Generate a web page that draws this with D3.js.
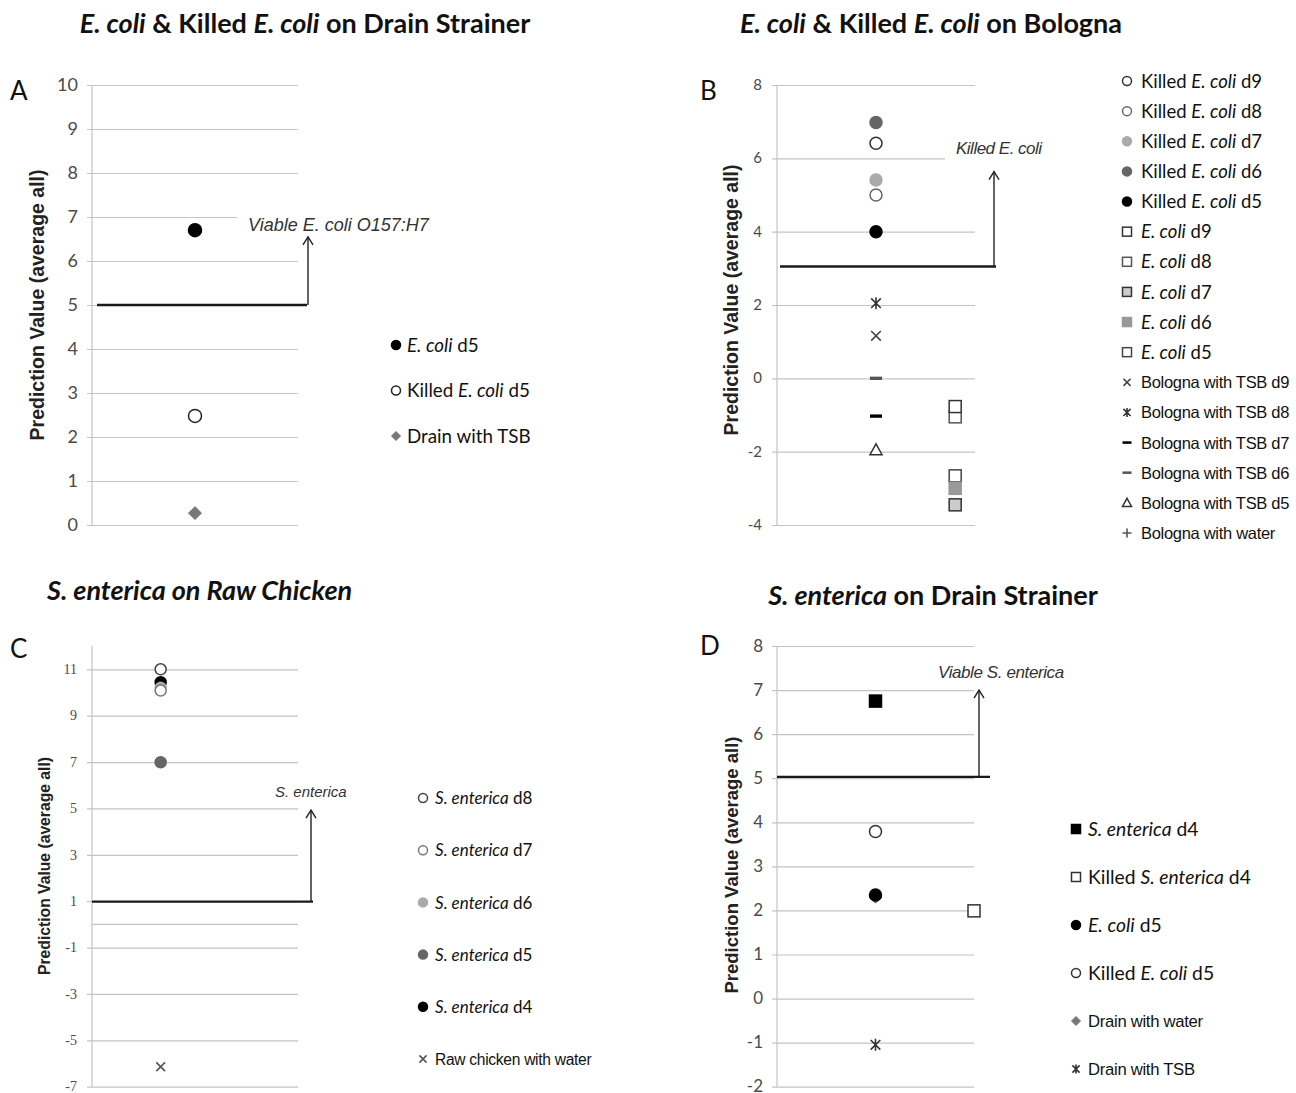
<!DOCTYPE html>
<html>
<head>
<meta charset="utf-8">
<script src="https://cdn.jsdelivr.net/npm/d3@7"></script>
<style>
  body { margin: 0; background: #fff; }
  svg { display: block; }
</style>
</head>
<body>
<svg id="chart" width="1296" height="1093"></svg>
<script>
// ---- data ----
// labels use *...* for italic parts

// A: E. coli & Killed E. coli on Drain Strainer
const aSeries = ['*E. coli* d5', 'Killed *E. coli* d5', 'Drain with TSB'];
const aValues = [6.7, 2.48, 0.27];
const aColumn = [1, 1, 1];
const aTicks = d3.range(0, 11, 1);

// B: E. coli & Killed E. coli on Bologna
const bSeries = [
  'Killed *E. coli* d9', 'Killed *E. coli* d8', 'Killed *E. coli* d7', 'Killed *E. coli* d6', 'Killed *E. coli* d5',
  '*E. coli* d9', '*E. coli* d8', '*E. coli* d7', '*E. coli* d6', '*E. coli* d5',
  'Bologna with TSB d9', 'Bologna with TSB d8', 'Bologna with TSB d7', 'Bologna with TSB d6', 'Bologna with TSB d5',
  'Bologna with water'
];
const bValues = [6.41, 5.0, 5.41, 6.98, 4.0, -0.77, -1.05, -3.45, -3.0, -2.66, 1.16, 2.05, -1.03, 0.0, -1.95, null];
const bColumn = [1, 1, 1, 1, 1, 1.8, 1.8, 1.8, 1.8, 1.8, 1, 1, 1, 1, 1, 1];
const bTicks = d3.range(-4, 9, 2);

// C: S. enterica on Raw Chicken
const cSeries = ['*S. enterica* d8', '*S. enterica* d7', '*S. enterica* d6', '*S. enterica* d5', '*S. enterica* d4', 'Raw chicken with water'];
const cValues = [11.0, 10.08, 10.2, 6.99, 10.44, -6.14];
const cColumn = [1, 1, 1, 1, 1, 1];
const cTicks = d3.range(-7, 12, 2);

// D: S. enterica on Drain Strainer
const dSeries = ['*S. enterica* d4', 'Killed *S. enterica* d4', '*E. coli* d5', 'Killed *E. coli* d5', 'Drain with water', 'Drain with TSB'];
const dValues = [6.75, 1.99, 2.35, 3.79, 2.3, -1.05];
const dColumn = [1, 2, 1, 1, 1, 1];
const dTicks = d3.range(-2, 9, 1);

// thresholds and arrow tips
const thresholds = [5, 3.05, 0.98, 5.03];
const arrowTops = [6.55, 5.64, 4.93, 7.0];

// ---- marker styles ----
const open = (s) => ({ t: 'circle', f: '#fff', s });
const dot = (f) => ({ t: 'circle', f, s: f });
const aMarks = [dot('#000'), open('#222'), { t: 'diamond', f: '#777', s: '#777' }];
const bMarks = [
  open('#333'), open('#666'), dot('#aaa'), dot('#666'), dot('#000'),
  { t: 'square', f: '#fff', s: '#333' }, { t: 'square', f: '#fff', s: '#555' },
  { t: 'square', f: '#ccc', s: '#333' }, { t: 'square', f: '#999', s: '#999' },
  { t: 'square', f: '#fff', s: '#444' },
  { t: 'x', s: '#444' }, { t: 'star', s: '#333' }, { t: 'dash', s: '#000' }, { t: 'dash', s: '#555' },
  { t: 'triangle', f: '#fff', s: '#333' }, { t: 'plus', s: '#555' }
];
const cMarks = [open('#444'), open('#777'), dot('#aaa'), dot('#666'), dot('#000'), { t: 'x', s: '#555' }];
const dMarks = [
  { t: 'square', f: '#000', s: '#000' }, { t: 'square', f: '#fff', s: '#333' },
  dot('#000'), open('#333'), { t: 'diamond', f: '#777', s: '#777' }, { t: 'star', s: '#333' }
];

const svg = d3.select('#chart');
const CAL = 'Lato, "Open Sans", sans-serif';
const ARIAL = '"Liberation Sans", Arial, sans-serif';

function richText(sel, label) {
  label.split('*').forEach((part, i) => {
    if (!part) return;
    sel.append('tspan').text(part).attr('font-style', i % 2 ? 'italic' : 'normal');
  });
}

function marker(g, m, cx, cy, r) {
  const mg = g.append('g').attr('transform', `translate(${cx},${cy})`);
  const sw = 1.5;
  if (m.t === 'circle') {
    mg.append('circle').attr('r', r).attr('fill', m.f).attr('stroke', m.s).attr('stroke-width', sw);
  } else if (m.t === 'square') {
    mg.append('rect').attr('x', -r).attr('y', -r).attr('width', 2 * r).attr('height', 2 * r)
      .attr('fill', m.f).attr('stroke', m.s).attr('stroke-width', sw);
  } else if (m.t === 'diamond') {
    mg.append('path').attr('d', `M0,${-r}L${r},0L0,${r}L${-r},0Z`).attr('fill', m.f).attr('stroke', m.s);
  } else if (m.t === 'triangle') {
    mg.append('path').attr('d', `M0,${-r}L${r},${r * 0.8}L${-r},${r * 0.8}Z`)
      .attr('fill', m.f).attr('stroke', m.s).attr('stroke-width', sw);
  } else if (m.t === 'dash') {
    mg.append('rect').attr('x', -r).attr('y', -r * 0.28).attr('width', 2 * r).attr('height', r * 0.56).attr('fill', m.s);
  } else {
    const k = r * 0.8;
    let d = '';
    if (m.t === 'x' || m.t === 'star') d += `M${-k},${-k}L${k},${k}M${-k},${k}L${k},${-k}`;
    if (m.t === 'star') d += `M0,${-r}L0,${r}`;
    if (m.t === 'plus') d += `M${-r},0L${r},0M0,${-r}L0,${r}`;
    mg.append('path').attr('d', d).attr('fill', 'none').attr('stroke', m.s).attr('stroke-width', 1.6);
  }
}

function drawPanel(p) {
  const g = svg.append('g');
  const y = d3.scaleLinear().domain(p.yDomain).range(p.yRange);
  const x = d3.scaleLinear().domain(p.xDomain).range([p.axisX, p.gridRight]);

  // grid + tick labels (plain hyphen minus, as in the figure)
  const axis = d3.axisLeft(y).tickValues(p.ticks)
    .tickSizeInner(-(p.gridRight - p.axisX)).tickSizeOuter(0).tickPadding(p.tickPad)
    .tickFormat(d => String(d));
  const ag = g.append('g').attr('transform', `translate(${p.axisX},0)`).call(axis);
  ag.select('.domain').remove();
  ag.selectAll('.tick line').attr('x1', -5).attr('stroke', '#c4c4c4').attr('stroke-width', 1.2);
  ag.selectAll('.tick text').attr('font-family', p.tickFont).attr('font-size', p.tickSize)
    .attr('dy', '0.3em').attr('fill', '#4a4a4a');

  (p.extraLines || []).forEach(v => {
    g.append('line').attr('x1', p.axisX).attr('x2', p.gridRight).attr('y1', y(v)).attr('y2', y(v))
      .attr('stroke', '#c4c4c4').attr('stroke-width', 1.2);
  });

  g.append('line').attr('x1', p.axisX).attr('x2', p.axisX)
    .attr('y1', y(p.yDomain[1])).attr('y2', y(p.yDomain[0]))
    .attr('stroke', '#c4c4c4').attr('stroke-width', 1.2);

  // y axis title
  g.append('text').attr('transform', `translate(${p.titleX},${p.titleY}) rotate(-90)`)
    .attr('text-anchor', 'middle').attr('font-family', ARIAL).attr('font-weight', 'bold')
    .attr('font-size', p.axisTitleSize).attr('fill', '#222').text('Prediction Value (average all)');

  // annotation text with white box hiding grid behind
  const box = g.append('rect').attr('fill', '#fff');
  const ann = g.append('text').attr('x', p.annX).attr('y', p.annY)
    .attr('font-family', ARIAL).attr('font-style', 'italic').attr('font-size', p.annSize)
    .attr('letter-spacing', p.annSpacing || 0).attr('fill', '#333').text(p.annText);
  const bb = ann.node().getBBox();
  box.attr('x', bb.x - 11).attr('y', bb.y - 3).attr('width', bb.width + 14).attr('height', bb.height + 6);

  // threshold + arrow
  const ty = y(p.threshold);
  g.append('line').attr('x1', p.thX0).attr('x2', p.thX1).attr('y1', ty).attr('y2', ty)
    .attr('stroke', '#1a1a1a').attr('stroke-width', 2.4);
  const ay = y(p.arrowTop);
  g.append('line').attr('x1', p.arrowX).attr('x2', p.arrowX).attr('y1', ty).attr('y2', ay)
    .attr('stroke', '#222').attr('stroke-width', 1.4);
  g.append('path').attr('d', `M${p.arrowX - 5},${ay + 8}L${p.arrowX},${ay}L${p.arrowX + 5},${ay + 8}`)
    .attr('fill', 'none').attr('stroke', '#222').attr('stroke-width', 1.4);

  // points, drawn last series first
  const pts = g.append('g');
  for (let i = p.series.length - 1; i >= 0; i--) {
    if (p.values[i] === null) continue;
    marker(pts, p.marks[i], x(p.columns[i]), y(p.values[i]), p.markR);
  }

  // legend
  p.series.forEach((label, i) => {
    const ry = p.legY + i * p.legStep;
    marker(g, p.marks[i], p.legX, ry, 4.5);
    const plain = label.indexOf('*') < 0 && p.plainArial;
    const size = plain ? p.legPlainSize : p.legSize;
    const t = g.append('text').attr('x', p.legTextX).attr('y', ry + size * 0.36)
      .attr('font-family', plain ? ARIAL : CAL).attr('font-size', size)
      .attr('letter-spacing', plain ? -0.3 : 0).attr('fill', '#111');
    richText(t, label);
  });

  // panel letter
  g.append('text').attr('x', p.letterX).attr('y', p.letterY).attr('font-family', CAL)
    .attr('font-size', 26).attr('fill', '#111').text(p.letter);

  // panel title
  const tt = g.append('text').attr('x', p.headX).attr('y', p.headY)
    .attr('text-anchor', p.headAnchor).attr('font-family', CAL).attr('font-weight', 'bold')
    .attr('font-size', 27).attr('fill', '#111');
  richText(tt, p.head);
}

drawPanel({
  series: aSeries, values: aValues, columns: aColumn, marks: aMarks, ticks: aTicks,
  yDomain: [0, 10], yRange: [525, 85], xDomain: [0, 2], axisX: 92, gridRight: 298,
  tickFont: CAL, tickSize: 18, tickPad: 14,
  titleX: 44, titleY: 305, axisTitleSize: 19.5,
  annText: 'Viable E. coli O157:H7', annX: 248, annY: 231, annSize: 18,
  threshold: thresholds[0], thX0: 97, thX1: 307, arrowX: 308, arrowTop: arrowTops[0],
  markR: 6.5, legX: 396, legTextX: 407, legY: 345, legStep: 45.5, legSize: 18.8, plainArial: false,
  letter: 'A', letterX: 10, letterY: 100,
  head: '*E. coli* & Killed *E. coli* on Drain Strainer', headX: 305, headY: 33, headAnchor: 'middle'
});

drawPanel({
  series: bSeries, values: bValues, columns: bColumn, marks: bMarks, ticks: bTicks,
  yDomain: [-4, 8], yRange: [525, 85], xDomain: [0, 2], axisX: 777, gridRight: 975,
  tickFont: CAL, tickSize: 15, tickPad: 15,
  titleX: 738, titleY: 300, axisTitleSize: 19.5,
  annText: 'Killed E. coli', annX: 956, annY: 154, annSize: 17, annSpacing: -0.5,
  threshold: thresholds[1], thX0: 780, thX1: 996, arrowX: 994, arrowTop: arrowTops[1],
  markR: 6, legX: 1127, legTextX: 1141, legY: 81, legStep: 30.13, legSize: 18.5, legPlainSize: 16.5, plainArial: true,
  letter: 'B', letterX: 700, letterY: 100,
  head: '*E. coli* & Killed *E. coli* on Bologna', headX: 931, headY: 33, headAnchor: 'middle'
});

drawPanel({
  series: cSeries, values: cValues, columns: cColumn, marks: cMarks, ticks: cTicks,
  yDomain: [-7, 12], yRange: [1086.7, 646.1], xDomain: [0, 3], axisX: 92, gridRight: 298,
  extraLines: [0],
  tickFont: '"Liberation Serif", serif', tickSize: 14, tickPad: 15,
  titleX: 50, titleY: 866, axisTitleSize: 15.7,
  annText: 'S. enterica', annX: 275, annY: 797, annSize: 15,
  threshold: thresholds[2], thX0: 92, thX1: 313, arrowX: 311, arrowTop: arrowTops[2],
  markR: 5.5, legX: 423, legTextX: 435, legY: 798, legStep: 52.2, legSize: 17, legPlainSize: 15.6, plainArial: true,
  letter: 'C', letterX: 10, letterY: 658,
  head: '*S. enterica on Raw Chicken*', headX: 47, headY: 600, headAnchor: 'start'
});

drawPanel({
  series: dSeries, values: dValues, columns: dColumn, marks: dMarks, ticks: dTicks,
  yDomain: [-2, 8], yRange: [1086.7, 646], xDomain: [0, 2], axisX: 777, gridRight: 974,
  tickFont: CAL, tickSize: 17, tickPad: 14,
  titleX: 738, titleY: 865, axisTitleSize: 18.5,
  annText: 'Viable S. enterica', annX: 938, annY: 678, annSize: 17, annSpacing: -0.4,
  threshold: thresholds[3], thX0: 777, thX1: 990, arrowX: 979, arrowTop: arrowTops[3],
  markR: 6, legX: 1076, legTextX: 1088, legY: 829, legStep: 48, legSize: 19.3, legPlainSize: 16.7, plainArial: true,
  letter: 'D', letterX: 700, letterY: 655,
  head: '*S. enterica* on Drain Strainer', headX: 933, headY: 605, headAnchor: 'middle'
});
</script>
</body>
</html>
